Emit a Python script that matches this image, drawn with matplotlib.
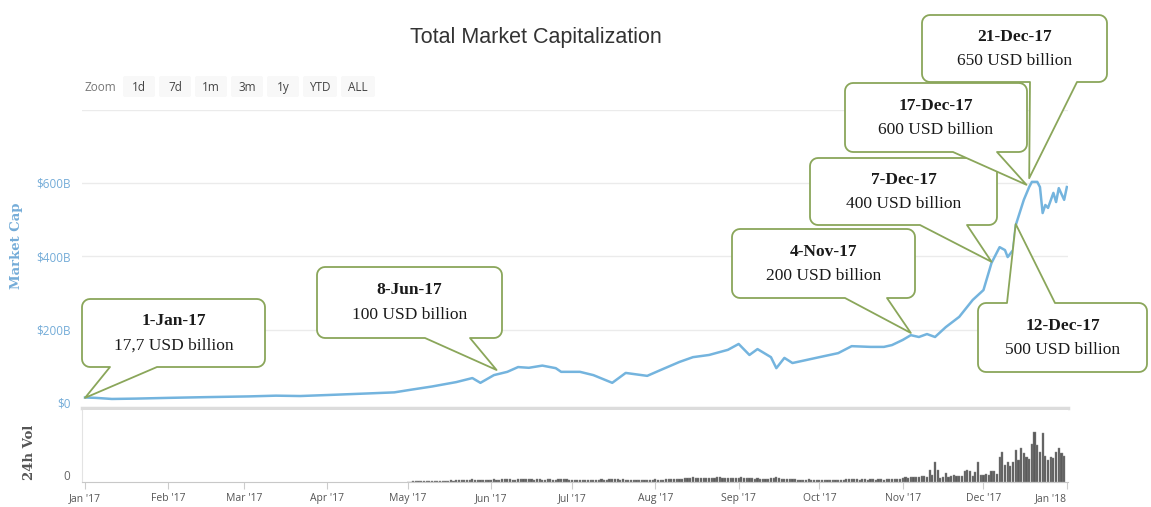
import numpy as np
import matplotlib
matplotlib.use("Agg")
import matplotlib.pyplot as plt
import matplotlib.dates as mdates
from matplotlib.patches import Polygon, FancyBboxPatch

W, H = 1151, 507

# market cap (USD billion)
cap_dates = [
    "2017-01-01", "2017-01-05", "2017-01-11", "2017-01-20", "2017-02-01", "2017-02-15",
    "2017-03-03", "2017-03-13", "2017-03-22", "2017-04-02", "2017-04-16", "2017-04-26",
    "2017-05-02", "2017-05-10", "2017-05-19", "2017-05-25", "2017-05-28", "2017-06-02",
    "2017-06-07", "2017-06-11", "2017-06-15", "2017-06-20", "2017-06-25", "2017-06-27",
    "2017-07-04", "2017-07-09", "2017-07-16", "2017-07-21", "2017-07-29", "2017-08-03",
    "2017-08-10", "2017-08-15", "2017-08-21", "2017-08-28", "2017-09-01", "2017-09-05",
    "2017-09-08", "2017-09-13", "2017-09-15", "2017-09-18", "2017-09-21", "2017-09-26",
    "2017-10-01", "2017-10-08", "2017-10-13", "2017-10-20", "2017-10-25", "2017-10-28",
    "2017-11-01", "2017-11-04", "2017-11-07", "2017-11-10", "2017-11-13", "2017-11-17",
    "2017-11-22", "2017-11-27", "2017-12-01", "2017-12-04", "2017-12-07", "2017-12-09",
    "2017-12-10", "2017-12-12", "2017-12-13", "2017-12-16", "2017-12-18", "2017-12-19",
    "2017-12-21", "2017-12-22", "2017-12-23", "2017-12-24", "2017-12-25", "2017-12-27",
    "2017-12-28", "2017-12-29", "2017-12-31", "2018-01-01",
]
cap_values = [
    15, 14, 11, 12, 14, 16,
    18, 20, 19, 22, 26, 29,
    36, 45, 57, 68, 55, 76,
    85, 98, 96, 102, 95, 85,
    85, 76, 55, 82, 74, 90,
    112, 125, 131, 145, 161, 131,
    147, 125, 95, 123, 109, 117,
    125, 136, 155, 153, 153, 158,
    172, 185, 180, 188, 180, 207,
    235, 281, 308, 382, 425, 417,
    398, 417, 485, 554, 589, 603,
    603, 589, 518, 540, 532, 573,
    548, 586, 554, 589,
]

# 24h volume (USD billion), daily from 1 May 2017
vol_may = [0.4, 0.4, 0.5, 0.5, 0.6, 0.5, 0.6, 0.7, 0.8, 1.0, 1.2, 1.0, 1.1, 0.9, 1.0, 1.2,
           1.3, 1.2, 1.4, 1.5, 1.3, 1.6, 1.8, 2.0, 2.2, 1.9, 1.7, 1.5, 1.6, 1.8, 2.0]
vol_jun = [2.0, 2.2, 1.8, 1.9, 2.1, 2.4, 2.6, 2.2, 2.0, 1.9, 2.3, 2.7, 2.5, 2.8, 2.4,
           2.2, 2.0, 2.1, 2.3, 2.0, 1.9, 2.2, 2.4, 2.0, 1.8, 2.1, 2.3, 2.6, 2.2, 2.0]
vol_jul = [1.8, 1.6, 1.9, 2.0, 1.7, 1.6, 1.5, 1.4, 1.6, 1.8, 2.0, 2.1, 1.9, 1.7, 2.2, 2.4,
           2.8, 2.3, 2.0, 2.5, 1.9, 1.6, 1.4, 1.5, 1.6, 1.8, 1.7, 1.5, 1.4, 1.6, 1.9]
vol_aug = [2.1, 1.8, 1.9, 2.0, 2.3, 2.5, 2.4, 2.8, 2.6, 2.5, 2.9, 3.2, 3.0, 3.4, 3.8, 3.2,
           3.5, 3.3, 3.6, 3.1, 3.0, 3.4, 3.7, 4.0, 3.8, 3.2, 3.0, 3.3, 3.5, 3.2, 3.6]
vol_sep = [3.3, 3.8, 3.4, 3.0, 3.5, 3.2, 2.9, 3.0, 2.6, 2.8, 2.5, 2.9, 3.3, 3.6, 4.4,
           3.2, 2.6, 2.8, 2.4, 2.2, 2.5, 2.3, 1.9, 1.8, 2.0, 1.9, 2.1, 1.8, 1.7, 1.6]
vol_oct = [1.5, 1.6, 1.4, 1.5, 1.6, 1.5, 1.4, 1.6, 1.8, 1.9, 2.1, 2.6, 2.8, 2.4, 2.2, 2.0,
           2.3, 2.1, 2.0, 2.2, 2.1, 2.0, 2.3, 2.2, 2.0, 2.3, 2.1, 2.4, 2.6, 2.3, 2.5]
vol_nov = [3.5, 4.0, 3.5, 3.8, 4.2, 4.5, 3.8, 4.6, 5.0, 4.2, 10.0, 6.0, 17.0, 10.0, 3.5,
           3.8, 7.5, 4.0, 5.0, 5.5, 5.0, 4.8, 5.2, 9.5, 10.0, 9.0, 5.0, 8.0, 17.0, 6.0]
vol_dec = [6.0, 6.5, 6.0, 9.0, 9.5, 7.0, 21.0, 25.0, 14.0, 17.0, 13.0, 17.0, 27.0, 18.0,
           28.0, 24.0, 21.0, 19.0, 32.0, 42.0, 31.0, 25.0, 41.0, 22.0, 18.0, 21.0, 20.0,
           25.0, 28.0, 24.0, 22.0]

month_ticks = ["2017-01-01", "2017-02-01", "2017-03-01", "2017-04-01", "2017-05-01",
               "2017-06-01", "2017-07-01", "2017-08-01", "2017-09-01", "2017-10-01",
               "2017-11-01", "2017-12-01", "2018-01-01"]
month_labels = ["Jan '17", "Feb '17", "Mar '17", "Apr '17", "May '17", "Jun '17", "Jul '17",
                "Aug '17", "Sep '17", "Oct '17", "Nov '17", "Dec '17", "Jan '18"]

cap_ticks = [0, 200, 400, 600]
cap_tick_labels = ["$0", "$200B", "$400B", "$600B"]
grid_levels = [200, 400, 600, 800]

zoom_buttons = ["1d", "7d", "1m", "3m", "1y", "YTD", "ALL"]

callout_titles = ["1-Jan-17", "8-Jun-17", "4-Nov-17", "7-Dec-17", "12-Dec-17", "17-Dec-17", "21-Dec-17"]
callout_amounts = ["17,7 USD billion", "100 USD billion", "200 USD billion", "400 USD billion",
                   "500 USD billion", "600 USD billion", "650 USD billion"]
tip_dates = ["2017-01-01", "2017-06-03", "2017-11-04", "2017-12-04", "2017-12-13",
             "2017-12-17", "2017-12-18"]
tip_values = [14, 90, 191, 385, 488, 595, 613]

# box layout in pixels (x0, y0, x1, y1, side of pointer, pointer base from, to)
boxes = [
    (82, 299, 265, 367, "bottom", 110, 157),
    (317, 267, 502, 338, "bottom", 425, 470),
    (732, 229, 915, 298, "bottom", 845, 887),
    (810, 158, 997, 225, "bottom", 920, 967),
    (978, 303, 1147, 372, "top", 1007, 1055),
    (845, 83, 1027, 152, "bottom", 953, 997),
    (922, 15, 1107, 82, "bottom", 1030, 1077),
]
draw_order = [0, 1, 2, 3, 4, 6, 5]

line_blue = "#74b4de"
label_blue = "#74acd8"
green = "#8aa65a"

cap_x = mdates.date2num(np.array(cap_dates, dtype="datetime64[D]"))
vol_values = vol_may + vol_jun + vol_jul + vol_aug + vol_sep + vol_oct + vol_nov + vol_dec
vol_x = mdates.date2num(np.datetime64("2017-05-01") + np.arange(len(vol_values)))
tick_x = mdates.date2num(np.array(month_ticks, dtype="datetime64[D]"))
d0 = tick_x[0]
px_per_day = 2.69
xlim = (d0 - 3 / px_per_day, d0 + (1068 - 85) / px_per_day)

fig = plt.figure(figsize=(W / 100, H / 100), dpi=100)
fig.patch.set_facecolor("white")

# main panel: value 0 at y=403 px, 0.3667 px per billion
ppb = 0.3667
top_px = 403 - 800 * ppb
ax = fig.add_axes([82 / W, (H - 408) / H, 986 / W, (408 - top_px) / H])
ax.set_xlim(*xlim)
ax.set_ylim(-(408 - 403) / ppb, 800)
for g in grid_levels:
    ax.axhline(g, color="#ebebeb", lw=1, zorder=0)
ax.plot(cap_x, cap_values, color=line_blue, lw=1.8, solid_joinstyle="round", zorder=3)
ax.set_yticks(cap_ticks)
ax.set_yticklabels(cap_tick_labels, fontsize=8.5, color=label_blue, fontfamily="Open Sans")
ax.tick_params(axis="y", length=0, pad=8)
ax.set_xticks([])
for s in ["top", "right", "left"]:
    ax.spines[s].set_visible(False)
ax.spines["bottom"].set_color("#dcdcdc")
ax.spines["bottom"].set_linewidth(2.5)
ax.set_facecolor("none")

# volume panel
axv = fig.add_axes([82 / W, (H - 482) / H, 986 / W, 72 / H])
axv.set_xlim(*xlim)
axv.set_ylim(0, 60)
axv.bar(vol_x, vol_values, width=0.8, color="#5b5b5b", edgecolor="#8a8a8a", linewidth=0.3)
axv.set_yticks([])
axv.set_xticks(tick_x)
axv.set_xticklabels(month_labels, fontsize=7.5, color="#555555", fontfamily="Open Sans")
axv.get_xticklabels()[-1].set_horizontalalignment("right")
axv.tick_params(axis="x", length=5, color="#cccccc", pad=3)
for s in ["top", "right"]:
    axv.spines[s].set_visible(False)
axv.spines["left"].set_color("#e3e3e3")
axv.spines["bottom"].set_color("#c8c8c8")
axv.annotate("0", xy=(0, 0), xycoords=("axes fraction", "data"), xytext=(-12, 6),
             textcoords="offset pixels", ha="right", va="center", fontsize=8.5,
             color="#666666", fontfamily="Open Sans")

# axis titles and chart title
fig.text(17 / W, 1 - 246 / H, "Market Cap", rotation=90, ha="center", va="center",
         fontsize=9.5, fontweight="bold", color=label_blue, fontfamily="DejaVu Serif")
fig.text(30 / W, 1 - 452 / H, "24h Vol", rotation=90, ha="center", va="center",
         fontsize=9.5, fontweight="bold", color="#555555", fontfamily="DejaVu Serif")
fig.text(536 / W, 1 - 37 / H, "Total Market Capitalization", ha="center", va="center",
         fontsize=15.5, color="#333333", fontfamily="Liberation Sans")

# overlay in pixel coordinates (y downward) for zoom row and callouts
ov = fig.add_axes([0, 0, 1, 1], zorder=10)
ov.set_xlim(0, W)
ov.set_ylim(H, 0)
ov.axis("off")

ov.text(85, 91, "Zoom", ha="left", va="baseline", fontsize=8.5, color="#777777",
        fontfamily="Open Sans")
bx = 123
for lab in zoom_buttons:
    bw = 32 if len(lab) < 3 else 34
    ov.add_patch(FancyBboxPatch((bx, 76), bw, 21, boxstyle="round,pad=0,rounding_size=2",
                                fc="#f8f8f8", ec="none"))
    ov.text(bx + bw / 2, 91, lab, ha="center", va="baseline", fontsize=8.5, color="#444444",
            fontfamily="Open Sans")
    bx += bw + 4


def callout_polygon(x0, y0, x1, y1, side, b0, b1, tip, r=8):
    def arc(cx, cy, a0, a1):
        a = np.radians(np.linspace(a0, a1, 7))
        return list(zip(cx + r * np.cos(a), cy + r * np.sin(a)))

    pts = arc(x0 + r, y0 + r, 180, 270)
    if side == "top":
        pts += [(b0, y0), tip, (b1, y0)]
    pts += arc(x1 - r, y0 + r, 270, 360)
    pts += arc(x1 - r, y1 - r, 0, 90)
    if side == "bottom":
        pts += [(b1, y1), tip, (b0, y1)]
    pts += arc(x0 + r, y1 - r, 90, 180)
    return np.array(pts)


tip_x = mdates.date2num(np.array(tip_dates, dtype="datetime64[D]"))
for i in draw_order:
    x0, y0, x1, y1, side, b0, b1 = boxes[i]
    dx, dy = ax.transData.transform((tip_x[i], tip_values[i]))
    tip = (dx, H - dy)
    poly = Polygon(callout_polygon(x0, y0, x1, y1, side, b0, b1, tip), closed=True,
                   fc="white", ec=green, lw=1.3, joinstyle="round")
    ov.add_patch(poly)
    cx = (x0 + x1) / 2
    h = y1 - y0
    ov.text(cx, y0 + 0.33 * h, callout_titles[i], ha="center", va="center", fontsize=12.5,
            fontweight="bold", color="#1a1a1a", fontfamily="Liberation Serif")
    ov.text(cx, y0 + 0.68 * h, callout_amounts[i], ha="center", va="center", fontsize=12.5,
            color="#1a1a1a", fontfamily="Liberation Serif")

fig.savefig("out.png", dpi=100)
